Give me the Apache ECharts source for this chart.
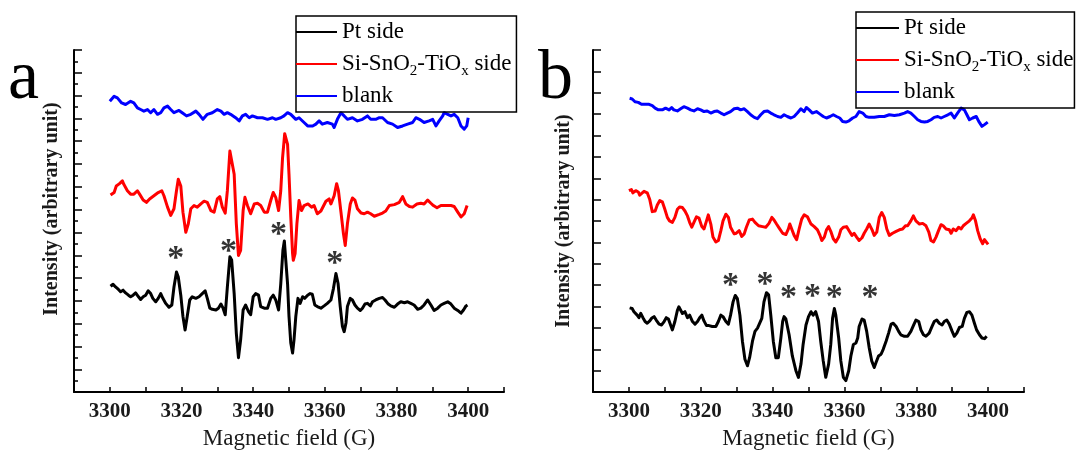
<!DOCTYPE html>
<html>
<head>
<meta charset="utf-8">
<script src="https://cdn.jsdelivr.net/npm/echarts@6/dist/echarts.min.js"></script>
<style>
  html, body { margin: 0; padding: 0; background: #fff; }
  #chart { width: 1079px; height: 455px; }
</style>
</head>
<body>
<div id="chart"></div>
<script>
// EPR spectra: field (G) vs. intensity (arbitrary unit), two panels.
const seriesNames = ['Pt side', 'Si-SnO2-TiOx side', 'blank'];
const panelLetters = ['a', 'b'];
const fieldLabels = [3300, 3320, 3340, 3360, 3380, 3400];

// ---- panel a ----
const ptSideA = [[3300.2,4.64],[3300.9,4.73],[3301.6,4.61],[3302.4,4.50],[3303.0,4.40],[3303.7,4.47],[3304.4,4.35],[3305.2,4.25],[3305.8,4.18],[3306.5,4.25],[3307.2,4.35],[3308.0,4.18],[3308.6,4.06],[3309.3,4.18],[3310.0,4.25],[3310.7,4.44],[3311.4,4.32],[3312.0,4.11],[3312.8,3.96],[3313.5,4.11],[3314.2,4.32],[3314.8,4.11],[3315.6,3.89],[3316.5,3.72],[3317.3,3.82],[3317.9,4.61],[3318.6,5.27],[3319.1,5.05],[3319.8,4.25],[3320.4,3.32],[3321.0,2.72],[3321.6,3.32],[3322.3,4.04],[3323.0,4.18],[3324.0,4.11],[3324.9,4.18],[3325.8,4.32],[3326.6,4.44],[3327.2,4.11],[3327.9,3.68],[3328.6,3.63],[3329.6,3.60],[3330.3,3.68],[3331.0,3.86],[3331.6,3.68],[3332.2,3.39],[3332.8,4.61],[3333.5,5.93],[3334.0,5.79],[3334.7,4.32],[3335.3,2.58],[3335.9,1.51],[3336.5,2.29],[3337.2,3.60],[3337.9,3.82],[3338.7,3.53],[3339.3,3.39],[3340.0,4.18],[3340.7,4.32],[3341.5,4.25],[3342.1,3.75],[3343.1,3.68],[3344.0,3.68],[3344.9,4.11],[3345.6,4.25],[3346.3,4.04],[3347.1,3.60],[3347.7,4.75],[3348.3,6.22],[3348.7,6.63],[3349.1,5.79],[3349.6,4.75],[3350.0,3.32],[3350.5,2.15],[3351.0,1.71],[3351.4,2.29],[3351.9,3.32],[3352.5,4.11],[3353.1,3.89],[3353.8,4.18],[3354.4,4.11],[3355.2,4.25],[3355.9,4.32],[3356.5,4.29],[3357.2,3.82],[3357.9,3.75],[3358.9,3.68],[3359.8,3.78],[3360.7,3.89],[3361.7,4.04],[3362.4,4.54],[3363.1,5.20],[3363.7,4.76],[3364.3,3.75],[3364.9,2.89],[3365.4,2.65],[3365.9,3.03],[3366.3,3.75],[3367.1,4.11],[3367.7,4.04],[3368.4,3.82],[3369.1,3.68],[3369.9,3.58],[3370.5,3.68],[3371.2,3.86],[3371.9,3.89],[3372.7,3.78],[3373.3,3.96],[3374.2,4.04],[3375.2,4.11],[3376.1,4.15],[3376.8,4.04],[3377.7,3.86],[3378.4,3.78],[3379.4,3.72],[3380.3,3.86],[3381.2,3.96],[3382.2,3.92],[3383.1,3.96],[3384.0,3.89],[3384.9,3.82],[3385.9,3.63],[3386.8,3.68],[3387.7,3.82],[3388.7,4.04],[3389.6,3.82],[3390.5,3.58],[3391.5,3.68],[3392.4,3.82],[3393.3,3.89],[3394.3,3.96],[3395.2,3.86],[3396.1,3.68],[3397.1,3.58],[3398.0,3.46],[3398.7,3.60],[3399.4,3.78],[3399.8,3.82]];

const oxideSideA = [[3300.2,8.64],[3301.2,8.75],[3301.8,9.04],[3302.7,9.14],[3303.5,9.26],[3303.9,9.11],[3304.9,8.83],[3305.8,8.68],[3306.7,8.68],[3307.7,8.83],[3308.3,8.68],[3309.3,8.42],[3310.2,8.32],[3311.1,8.47],[3312.3,8.61],[3313.5,8.75],[3314.5,8.83],[3315.1,8.61],[3316.1,8.11],[3317.0,7.75],[3317.9,8.04],[3318.6,8.83],[3319.1,9.33],[3319.8,9.04],[3320.4,7.89],[3321.2,7.01],[3321.9,7.38],[3322.6,8.04],[3323.5,8.18],[3324.4,8.11],[3325.4,8.25],[3326.3,8.37],[3327.2,8.32],[3328.2,7.96],[3329.1,7.89],[3330.0,8.47],[3330.7,8.57],[3331.4,8.11],[3332.2,7.85],[3332.8,8.83],[3333.5,10.57],[3334.0,10.57],[3334.7,9.55],[3335.3,7.38],[3335.9,5.99],[3336.5,6.21],[3337.2,7.96],[3337.7,8.54],[3338.4,8.18],[3339.3,7.82],[3340.3,8.25],[3341.2,8.28],[3342.1,8.18],[3343.1,7.89],[3344.0,7.89],[3344.9,8.40],[3345.6,8.75],[3346.3,8.54],[3347.1,7.96],[3347.7,8.83],[3348.2,10.27],[3348.8,11.33],[3349.6,10.86],[3350.0,9.55],[3350.5,7.67],[3351.0,6.07],[3351.2,5.78],[3351.7,6.07],[3352.2,7.38],[3352.8,8.40],[3353.5,7.96],[3354.2,8.18],[3355.3,8.25],[3356.3,8.11],[3357.0,8.18],[3357.9,7.82],[3358.9,7.94],[3360.3,8.37],[3361.2,8.47],[3361.7,8.25],[3362.6,8.61],[3363.3,9.14],[3363.8,8.83],[3364.5,7.89],[3365.2,6.94],[3365.7,6.43],[3366.3,7.38],[3367.1,8.25],[3367.7,8.51],[3368.4,8.42],[3369.1,8.04],[3370.1,7.85],[3371.0,7.82],[3371.9,7.89],[3372.8,7.82],[3373.8,7.71],[3375.2,7.79],[3376.1,7.85],[3377.0,7.94],[3378.0,8.18],[3379.4,8.22],[3380.8,8.32],[3381.7,8.57],[3382.6,8.25],[3383.6,8.14],[3384.5,8.11],[3385.7,8.25],[3386.8,8.28],[3387.7,8.25],[3388.7,8.42],[3389.6,8.28],[3390.3,8.18],[3391.3,8.08],[3392.4,8.18],[3393.8,8.18],[3395.2,8.18],[3396.1,8.14],[3397.1,7.89],[3398.0,7.68],[3398.9,7.82],[3399.7,8.18]];

const blankA = [[3300.0,12.75],[3301.2,12.97],[3302.1,12.90],[3303.3,12.68],[3304.4,12.61],[3305.8,12.75],[3306.7,12.68],[3307.7,12.46],[3308.6,12.39],[3309.5,12.32],[3310.5,12.39],[3311.4,12.25],[3312.3,12.39],[3313.3,12.18],[3314.2,12.25],[3315.1,12.46],[3316.1,12.54],[3317.0,12.39],[3317.9,12.25],[3319.3,12.35],[3320.2,12.25],[3321.4,12.11],[3322.6,12.18],[3324.0,12.32],[3324.9,12.18],[3326.0,11.96],[3327.2,12.18],[3328.6,12.25],[3330.0,12.39],[3331.0,12.32],[3331.9,12.18],[3332.8,12.25],[3333.7,12.18],[3335.1,12.03],[3336.1,11.89],[3337.0,12.11],[3337.9,12.18],[3338.9,12.03],[3339.8,12.11],[3341.2,12.03],[3342.6,12.03],[3344.0,11.96],[3345.4,12.03],[3346.3,11.96],[3347.7,12.03],[3348.6,12.11],[3349.6,12.25],[3350.5,12.18],[3351.9,11.96],[3352.8,12.03],[3353.3,12.11],[3354.2,11.82],[3355.2,11.67],[3356.6,11.67],[3357.5,11.75],[3358.4,11.89],[3359.3,11.75],[3360.7,11.82],[3362.1,11.75],[3362.6,11.60],[3363.5,11.96],[3364.5,12.25],[3365.4,12.11],[3366.3,11.96],[3367.7,12.03],[3369.1,11.89],[3370.5,11.96],[3371.9,12.11],[3372.8,11.96],[3374.2,11.96],[3375.2,12.03],[3376.1,12.03],[3377.5,11.82],[3378.9,11.75],[3380.3,11.60],[3381.7,11.67],[3383.1,11.75],[3384.5,11.82],[3385.4,12.03],[3386.4,11.96],[3387.7,11.82],[3389.1,11.89],[3390.1,11.96],[3391.0,11.67],[3391.9,11.89],[3392.9,12.11],[3393.3,12.25],[3394.3,12.18],[3395.2,12.11],[3396.1,12.18],[3397.1,12.03],[3398.0,11.67],[3398.9,11.53],[3399.6,11.67],[3400.0,12.03]];

// hyperfine line markers
const starsA = [[3318.4,6.07],[3333.1,6.38],[3347.1,7.16],[3362.8,5.85]];

// ---- panel b ----
const ptSideB = [[3300.2,3.94],[3300.9,3.91],[3301.4,3.76],[3301.9,3.83],[3302.3,3.60],[3302.8,3.48],[3303.3,3.68],[3303.9,3.48],[3304.5,3.30],[3305.1,3.22],[3305.8,3.33],[3306.3,3.45],[3307.0,3.53],[3307.6,3.37],[3308.4,3.18],[3309.1,3.14],[3309.8,3.30],[3310.4,3.48],[3311.0,3.42],[3311.6,3.14],[3312.1,2.91],[3312.8,3.30],[3313.5,3.83],[3313.9,3.99],[3314.4,3.91],[3314.9,3.68],[3315.6,3.76],[3316.3,3.48],[3316.9,3.60],[3317.7,3.30],[3318.4,3.18],[3319.1,3.30],[3319.7,3.48],[3320.3,3.60],[3320.9,3.33],[3321.6,3.11],[3322.3,3.11],[3323.2,3.07],[3324.2,3.07],[3324.9,3.30],[3325.6,3.60],[3326.2,3.53],[3327.0,3.30],[3327.7,3.18],[3328.3,3.60],[3329.0,4.22],[3329.6,4.52],[3330.2,4.37],[3330.9,3.60],[3331.6,2.38],[3332.3,1.54],[3333.0,1.23],[3333.6,1.61],[3334.4,2.38],[3335.1,2.84],[3335.8,2.99],[3336.2,3.07],[3337.0,3.45],[3337.6,4.22],[3338.3,4.65],[3338.9,4.55],[3339.5,3.60],[3340.2,2.38],[3340.9,1.61],[3341.6,1.61],[3342.3,2.53],[3342.8,3.30],[3343.2,3.53],[3343.7,3.42],[3344.6,2.68],[3345.5,1.69],[3346.5,1.00],[3347.2,0.69],[3347.9,1.31],[3348.5,2.23],[3349.3,3.14],[3350.0,3.53],[3350.7,3.76],[3351.3,3.60],[3352.0,3.76],[3352.8,3.30],[3353.4,2.38],[3354.1,1.46],[3354.8,0.69],[3355.6,1.31],[3356.2,2.23],[3356.7,3.45],[3357.2,3.91],[3357.6,3.60],[3358.4,2.53],[3359.0,1.46],[3359.7,0.69],[3360.4,0.54],[3361.2,1.00],[3361.8,1.69],[3362.5,2.23],[3363.2,2.30],[3363.7,2.53],[3364.1,3.07],[3364.9,3.42],[3365.5,3.37],[3366.2,2.84],[3366.9,2.07],[3367.6,1.46],[3368.3,1.15],[3368.8,1.38],[3369.5,1.69],[3370.2,1.77],[3370.8,2.00],[3371.6,2.38],[3372.3,2.76],[3373.0,3.18],[3373.6,3.22],[3374.4,3.07],[3375.1,2.84],[3375.7,2.68],[3376.7,2.61],[3377.6,2.61],[3378.5,2.84],[3379.2,3.11],[3379.9,3.37],[3380.7,3.30],[3381.3,2.91],[3382.0,2.68],[3382.7,2.61],[3383.6,2.76],[3384.4,3.07],[3385.0,3.30],[3385.7,3.37],[3386.4,3.22],[3387.2,3.14],[3387.8,3.30],[3388.5,3.37],[3389.2,3.18],[3390.0,2.84],[3390.6,2.61],[3391.3,2.76],[3392.0,3.02],[3392.8,3.07],[3393.4,3.45],[3394.1,3.73],[3394.8,3.76],[3395.5,3.60],[3396.2,3.22],[3396.8,2.91],[3397.6,2.68],[3398.3,2.53],[3399.0,2.50],[3399.6,2.61]];

const oxideSideB = [[3300.0,9.42],[3300.7,9.47],[3301.1,9.32],[3301.9,9.42],[3302.6,9.36],[3303.0,9.21],[3303.5,9.27],[3304.2,9.39],[3305.1,9.32],[3305.8,9.01],[3306.5,8.44],[3307.3,8.47],[3307.9,8.75],[3308.6,8.96],[3309.3,8.90],[3310.0,8.55],[3310.7,8.17],[3311.3,8.01],[3312.1,7.94],[3312.8,8.17],[3313.5,8.55],[3314.1,8.66],[3314.9,8.63],[3315.6,8.47],[3316.3,8.24],[3316.9,7.94],[3317.5,7.71],[3318.1,7.94],[3318.8,8.20],[3319.5,8.14],[3320.3,7.74],[3320.9,7.63],[3321.6,8.01],[3322.1,8.29],[3322.8,7.86],[3323.4,7.25],[3324.2,7.02],[3324.9,7.09],[3325.6,7.55],[3326.2,8.01],[3327.0,8.32],[3327.7,8.17],[3328.3,7.71],[3329.3,7.40],[3329.9,7.43],[3330.7,7.55],[3331.4,7.28],[3332.1,7.40],[3332.7,7.71],[3333.5,8.05],[3334.4,8.09],[3335.1,7.94],[3336.1,7.78],[3337.2,7.74],[3338.1,7.71],[3339.0,7.89],[3339.8,8.17],[3340.4,8.05],[3341.1,7.86],[3341.8,7.68],[3342.8,7.43],[3343.7,7.37],[3344.4,7.63],[3344.8,7.86],[3345.4,7.59],[3346.0,7.33],[3346.7,7.13],[3347.4,7.63],[3348.1,8.09],[3348.8,8.29],[3349.7,8.20],[3350.7,7.86],[3351.6,7.74],[3352.5,7.59],[3353.2,7.33],[3353.7,7.09],[3354.4,7.25],[3355.0,7.59],[3355.6,7.74],[3356.2,7.52],[3356.9,7.17],[3357.6,7.02],[3358.4,7.25],[3359.0,7.59],[3359.7,7.71],[3360.6,7.74],[3361.3,7.55],[3362.1,7.33],[3362.7,7.43],[3363.4,7.25],[3364.1,7.09],[3364.9,7.22],[3365.5,7.43],[3366.2,7.63],[3366.9,7.86],[3367.7,7.59],[3368.3,7.33],[3369.0,7.48],[3369.7,8.17],[3370.4,8.40],[3371.1,8.17],[3371.8,7.63],[3372.5,7.33],[3373.4,7.43],[3374.4,7.52],[3375.3,7.59],[3376.2,7.63],[3377.0,7.78],[3377.6,7.78],[3378.5,8.01],[3379.2,8.24],[3379.9,8.01],[3380.9,7.86],[3381.8,7.89],[3382.7,7.78],[3383.5,7.48],[3384.1,7.09],[3384.8,7.02],[3385.5,7.25],[3386.2,7.55],[3386.9,7.83],[3387.5,7.78],[3388.3,7.63],[3389.2,7.59],[3389.7,7.43],[3390.3,7.63],[3391.1,7.55],[3391.8,7.71],[3392.5,7.63],[3393.1,7.78],[3393.9,7.89],[3394.8,8.01],[3395.5,8.14],[3395.9,8.29],[3396.5,8.01],[3397.1,7.55],[3397.8,7.17],[3398.5,6.94],[3399.0,7.13],[3399.4,7.17],[3400.0,6.91]];

const blankB = [[3300.2,13.74],[3300.9,13.71],[3301.7,13.58],[3302.6,13.55],[3303.5,13.46],[3304.5,13.46],[3305.6,13.46],[3306.5,13.40],[3307.3,13.28],[3308.2,13.20],[3309.3,13.20],[3310.2,13.28],[3311.2,13.20],[3311.9,13.31],[3312.5,13.20],[3313.5,13.15],[3314.4,13.25],[3315.3,13.35],[3316.3,13.28],[3317.2,13.20],[3318.1,13.15],[3319.1,13.25],[3320.0,13.20],[3320.9,13.12],[3321.8,13.15],[3322.8,13.05],[3323.7,13.12],[3324.6,13.15],[3325.6,13.05],[3326.5,12.97],[3327.4,13.05],[3328.3,13.12],[3329.3,13.25],[3330.2,13.28],[3331.1,13.20],[3332.1,13.25],[3333.0,13.12],[3333.9,12.97],[3334.9,12.85],[3335.8,12.79],[3336.7,12.97],[3337.6,13.12],[3338.6,13.15],[3339.5,13.05],[3340.4,12.97],[3341.4,12.89],[3342.3,12.85],[3343.2,12.97],[3344.1,12.89],[3345.1,12.82],[3346.0,12.89],[3346.9,13.05],[3347.9,13.25],[3348.8,13.12],[3349.4,13.31],[3350.2,13.20],[3351.1,13.05],[3352.2,13.12],[3353.2,13.00],[3354.1,12.89],[3355.0,12.82],[3356.0,12.89],[3356.9,12.97],[3357.8,12.89],[3358.7,12.82],[3359.5,12.66],[3360.4,12.63],[3361.3,12.69],[3362.3,12.82],[3363.2,12.89],[3364.1,13.12],[3365.1,13.05],[3366.0,12.89],[3366.9,12.85],[3368.3,12.85],[3369.7,12.89],[3371.1,12.89],[3372.5,12.97],[3373.9,12.94],[3375.3,12.97],[3376.7,13.05],[3377.6,13.12],[3378.5,13.05],[3379.5,12.89],[3380.4,12.74],[3381.3,12.66],[3382.3,12.63],[3383.2,12.66],[3384.1,12.74],[3385.0,12.85],[3386.0,12.89],[3386.9,12.82],[3387.8,12.89],[3388.8,12.97],[3389.7,13.05],[3390.6,12.82],[3391.5,13.05],[3392.5,13.28],[3393.4,13.20],[3394.1,12.97],[3394.8,12.74],[3395.7,12.82],[3396.7,12.89],[3397.4,12.66],[3398.3,12.43],[3399.0,12.51],[3399.9,12.63]];

const starsB = [[3328.3,5.21],[3337.9,5.29],[3344.4,4.65],[3351.1,4.71],[3357.2,4.65],[3367.1,4.65]];

const FONT = '"Liberation Serif", "Times New Roman", serif';
const colors = ['#000000', '#ff0000', '#0000ff'];

function legendText(name) {
  return name === 'Si-SnO2-TiOx side' ? 'Si-SnO{s|2}-TiO{s|x} side' : name;
}

function legendBox(left, top, itemWidth, padRight) {
  return {
    orient: 'vertical', left: left, top: top,
    itemWidth: itemWidth, itemHeight: 2, itemGap: 2, icon: 'rect',
    padding: [1, padRight, 1, 0],
    borderColor: '#000', borderWidth: 1.5, borderRadius: 0,
    selectedMode: false,
    data: seriesNames,
    formatter: legendText,
    textStyle: {
      fontFamily: FONT, fontSize: 23, color: '#000', lineHeight: 30,
      rich: { s: { fontFamily: FONT, fontSize: 15, lineHeight: 14, verticalAlign: 'bottom' } }
    }
  };
}

function xAxisFor(gridIndex) {
  return {
    gridIndex: gridIndex, type: 'value', min: 3290, max: 3410, interval: 10,
    axisLine: { onZero: false, lineStyle: { color: '#000', width: 2 } },
    axisTick: { inside: true, length: 5, lineStyle: { color: '#000', width: 1.5 } },
    axisLabel: {
      margin: 9, fontFamily: FONT, fontWeight: 'bold', fontSize: 21, color: '#1a1a1a',
      formatter: v => (fieldLabels.indexOf(v) >= 0 ? String(v) : '')
    },
    splitLine: { show: false },
    name: 'Magnetic field (G)', nameLocation: 'middle', nameGap: 32,
    nameTextStyle: { fontFamily: FONT, fontSize: 23, color: '#1a1a1a' }
  };
}

function yAxisFor(gridIndex, max, minor, nameGap, shift) {
  return {
    gridIndex: gridIndex, type: 'value', min: 0, max: max, interval: 1,
    axisLine: { onZero: false, lineStyle: { color: '#000', width: 2 } },
    axisTick: { inside: true, length: 8, lineStyle: { color: '#000', width: 1.5 } },
    minorTick: { show: minor, splitNumber: 2, length: 4, lineStyle: { color: '#000', width: 1.5 } },
    axisLabel: { show: false },
    splitLine: { show: false },
    minorSplitLine: { show: false },
    name: 'Intensity (arbitrary unit)', nameLocation: 'middle', nameGap: nameGap,
    nameTextStyle: { fontFamily: FONT, fontSize: 20, fontWeight: 'bold', color: '#1a1a1a', padding: [0, 0, 0, shift] }
  };
}

function curve(name, data, idx, color) {
  return {
    name: name, type: 'line', xAxisIndex: idx, yAxisIndex: idx, data: data,
    showSymbol: false, symbol: 'none', color: color,
    lineStyle: { color: color, width: 3, join: 'round' },
    itemStyle: { color: color }
  };
}

function stars(data, idx) {
  return {
    type: 'scatter', xAxisIndex: idx, yAxisIndex: idx, data: data,
    symbolSize: 0.1, itemStyle: { color: 'transparent' }, silent: true,
    label: {
      show: true, position: 'inside', formatter: '*', offset: [0, 6],
      fontFamily: FONT, fontWeight: 'bold', fontSize: 34, color: '#000'
    }
  };
}

const chart = echarts.init(document.getElementById('chart'), null, { renderer: 'canvas' });
chart.setOption({
  animation: false,
  backgroundColor: '#fff',
  grid: [
    { left: 74, top: 50, width: 430, height: 344 },
    { left: 593, top: 50, width: 431, height: 344 }
  ],
  xAxis: [xAxisFor(0), xAxisFor(1)],
  yAxis: [yAxisFor(0, 15, true, 12, 24), yAxisFor(1, 16, false, 19, 0)],
  legend: [legendBox(296, 16, 41, 5), legendBox(856, 12, 43, 1)],
  graphic: [
    { type: 'text', left: 8, top: 45, style: { text: panelLetters[0], font: '70px ' + FONT, fill: '#000' } },
    { type: 'text', left: 538, top: 45, style: { text: panelLetters[1], font: '70px ' + FONT, fill: '#000' } }
  ],
  series: [
    curve(seriesNames[0], ptSideA, 0, colors[0]),
    curve(seriesNames[1], oxideSideA, 0, colors[1]),
    curve(seriesNames[2], blankA, 0, colors[2]),
    stars(starsA, 0),
    curve(seriesNames[0], ptSideB, 1, colors[0]),
    curve(seriesNames[1], oxideSideB, 1, colors[1]),
    curve(seriesNames[2], blankB, 1, colors[2]),
    stars(starsB, 1)
  ]
});
</script>
</body>
</html>
